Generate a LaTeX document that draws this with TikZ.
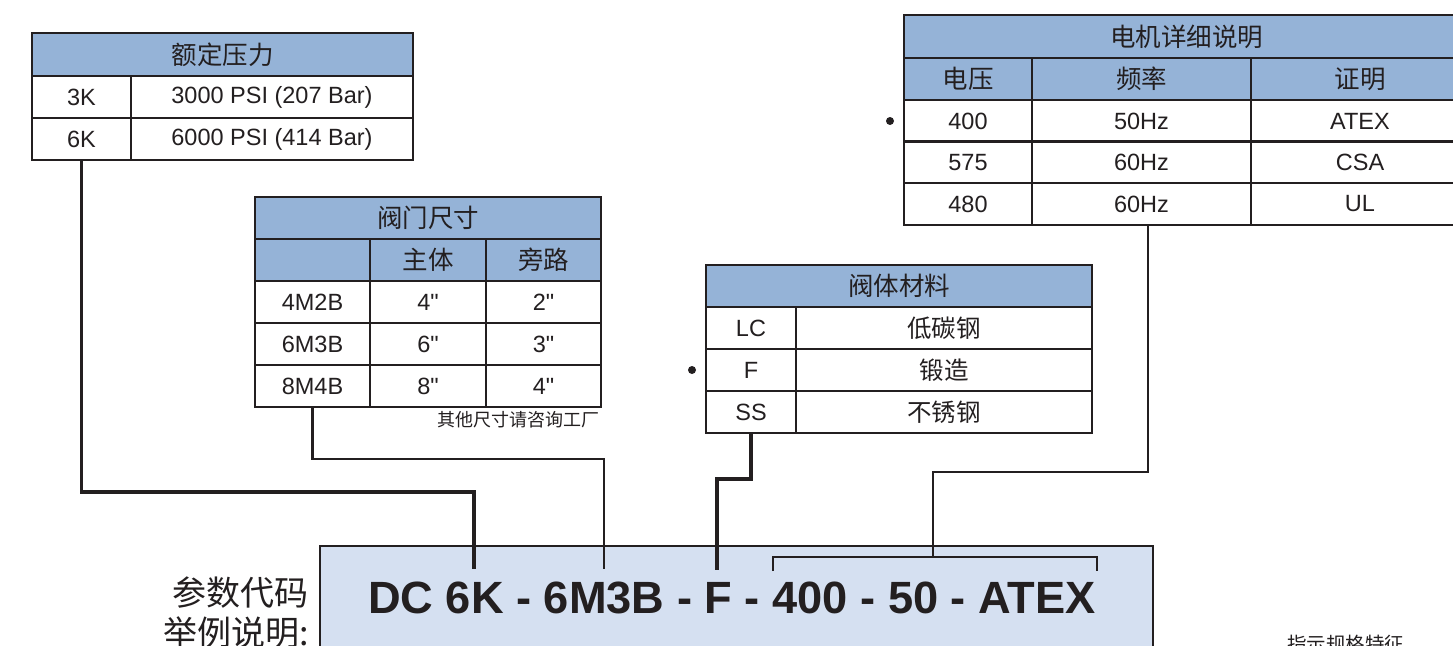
\documentclass[tikz,border=0pt]{standalone}
\usepackage{fontspec}
\setmainfont{Liberation Sans}[Ligatures=TeXOff]
\newfontfamily\cjk{Noto Sans CJK SC}
\definecolor{hdr}{RGB}{149,179,215}
\definecolor{codefill}{RGB}{213,224,241}
\definecolor{ink}{RGB}{35,31,32}
\begin{document}
\begin{tikzpicture}[x=1pt,y=-1pt,
  cell/.style={draw=ink, line width=2.2pt, rectangle, inner sep=0pt, fill=white, text=ink,
    font=\fontsize{23.5}{28}\selectfont},
  hcell/.style={cell, fill=hdr, font=\cjk\fontsize{25.5}{28}\selectfont},
  ccell/.style={cell, font=\cjk\fontsize{24.5}{28}\selectfont},
  wire/.style={draw=ink, line width=2.2pt},
  heavywire/.style={draw=ink, line width=3.2pt},
  bulletdot/.style={circle, fill=ink, inner sep=0pt, minimum size=8pt}
]
\useasboundingbox (0,0) rectangle (1453,645);
\clip (0,0) rectangle (1453,645);

% ---------- Table 1: rated pressure
\node[hcell, minimum width=381pt, minimum height=43pt] (t1h) at (222.5,54.5) {额定压力};
\node[cell, minimum width=99pt, minimum height=42pt] (t1a1) at (81.5,97) {3K};
\node[cell, minimum width=282pt, minimum height=42pt] (t1b1) at (272,97) {3000 PSI (207 Bar)};
\node[cell, minimum width=99pt, minimum height=42pt] (t1a2) at (81.5,139) {6K};
\node[cell, minimum width=282pt, minimum height=42pt] (t1b2) at (272,139) {6000 PSI (414 Bar)};

% ---------- Table 2: valve size
\node[hcell, minimum width=346pt, minimum height=42pt] (t2h) at (428,218) {阀门尺寸};
\node[hcell, minimum width=115pt, minimum height=42pt] (t2s1) at (312.5,260) {};
\node[hcell, minimum width=116pt, minimum height=42pt] (t2s2) at (428,260) {主体};
\node[hcell, minimum width=115pt, minimum height=42pt] (t2s3) at (543.5,260) {旁路};
\node[cell, minimum width=115pt, minimum height=42pt] (t2a1) at (312.5,302) {4M2B};
\node[cell, minimum width=116pt, minimum height=42pt] (t2b1) at (428,302) {4"};
\node[cell, minimum width=115pt, minimum height=42pt] (t2c1) at (543.5,302) {2"};
\node[cell, minimum width=115pt, minimum height=42pt] (t2a2) at (312.5,344) {6M3B};
\node[cell, minimum width=116pt, minimum height=42pt] (t2b2) at (428,344) {6"};
\node[cell, minimum width=115pt, minimum height=42pt] (t2c2) at (543.5,344) {3"};
\node[cell, minimum width=115pt, minimum height=42pt] (t2a3) at (312.5,386) {8M4B};
\node[cell, minimum width=116pt, minimum height=42pt] (t2b3) at (428,386) {8"};
\node[cell, minimum width=115pt, minimum height=42pt] (t2c3) at (543.5,386) {4"};
\node[anchor=east, inner sep=0pt, text=ink, font=\cjk\fontsize{18}{20}\selectfont] (t2note) at (600,420) {其他尺寸请咨询工厂};

% ---------- Table 3: body material
\node[hcell, minimum width=386pt, minimum height=42pt] (t3h) at (899,286) {阀体材料};
\node[cell, minimum width=90pt, minimum height=42pt] (t3a1) at (751,328) {LC};
\node[ccell, minimum width=296pt, minimum height=42pt] (t3b1) at (944,328) {低碳钢};
\node[cell, minimum width=90pt, minimum height=42pt] (t3a2) at (751,370) {F};
\node[ccell, minimum width=296pt, minimum height=42pt] (t3b2) at (944,370) {锻造};
\node[cell, minimum width=90pt, minimum height=42pt] (t3a3) at (751,412) {SS};
\node[ccell, minimum width=296pt, minimum height=42pt] (t3b3) at (944,412) {不锈钢};
\node[bulletdot] (d3) at (692,370) {};

% ---------- Table 4: motor details
\node[hcell, minimum width=565pt, minimum height=43pt] (t4h) at (1186.5,36.5) {电机详细说明};
\node[hcell, minimum width=128pt, minimum height=42pt] (t4s1) at (968,79) {电压};
\node[hcell, minimum width=219pt, minimum height=42pt] (t4s2) at (1141.5,79) {频率};
\node[hcell, minimum width=218pt, minimum height=42pt] (t4s3) at (1360,79) {证明};
\node[cell, minimum width=128pt, minimum height=42pt] (t4a1) at (968,121) {400};
\node[cell, minimum width=219pt, minimum height=42pt] (t4b1) at (1141.5,121) {50Hz};
\node[cell, minimum width=218pt, minimum height=42pt] (t4c1) at (1360,121) {ATEX};
\node[cell, minimum width=128pt, minimum height=42pt] (t4a2) at (968,162.5) {575};
\node[cell, minimum width=219pt, minimum height=42pt] (t4b2) at (1141.5,162.5) {60Hz};
\node[cell, minimum width=218pt, minimum height=42pt] (t4c2) at (1360,162.5) {CSA};
\node[cell, minimum width=128pt, minimum height=42pt] (t4a3) at (968,204) {480};
\node[cell, minimum width=219pt, minimum height=42pt] (t4b3) at (1141.5,204) {60Hz};
\node[cell, minimum width=218pt, minimum height=42pt] (t4c3) at (1360,204) {UL};
\node[bulletdot] (d4) at (890,121) {};

% ---------- Code box
\node[draw=ink, fill=codefill, line width=2.2pt, minimum width=833pt, minimum height=140pt,
      anchor=north west, inner sep=0pt] (code) at (319,545) {};
\node[anchor=base west, inner sep=0pt, text=ink, font=\bfseries\fontsize{45.2}{50}\selectfont]
      (codetxt) at (368,613) {DC 6K - 6M3B - F - 400 - 50 - ATEX};
\node[anchor=base east, inner sep=0pt, text=ink, font=\cjk\fontsize{34}{40}\selectfont] (lab1) at (309,605) {参数代码};
\node[anchor=base east, inner sep=0pt, text=ink, font=\cjk\fontsize{34}{40}\selectfont] (lab2) at (309,645) {举例说明:};
\node[anchor=base west, inner sep=0pt, text=ink, font=\cjk\fontsize{19.5}{22}\selectfont] (spec) at (1287,651) {指示规格特征};

% ---------- connector end points
\coordinate (p6k) at (474,569);
\coordinate (p6m) at (604,569);
\coordinate (pf) at (717,570);
\coordinate (bl) at (773,571);
\coordinate (br) at (1097,571);
\coordinate (pb) at (933,557);
\coordinate (m4) at (1148,225);

% ---------- connectors
\draw[heavywire] (t1a2.south) |- (p6k |- 0,492) -- (p6k);
\draw[wire] (t2a3.south) |- (p6m |- 0,459) -- (p6m);
\draw[heavywire] (t3a3.south) |- (pf |- 0,479) -- (pf);
\draw[wire] (m4) |- (pb |- 0,472) -- (pb);
\draw[wire] (bl) -- (bl |- pb) -- (br |- pb) -- (br);
\end{tikzpicture}
\end{document}
